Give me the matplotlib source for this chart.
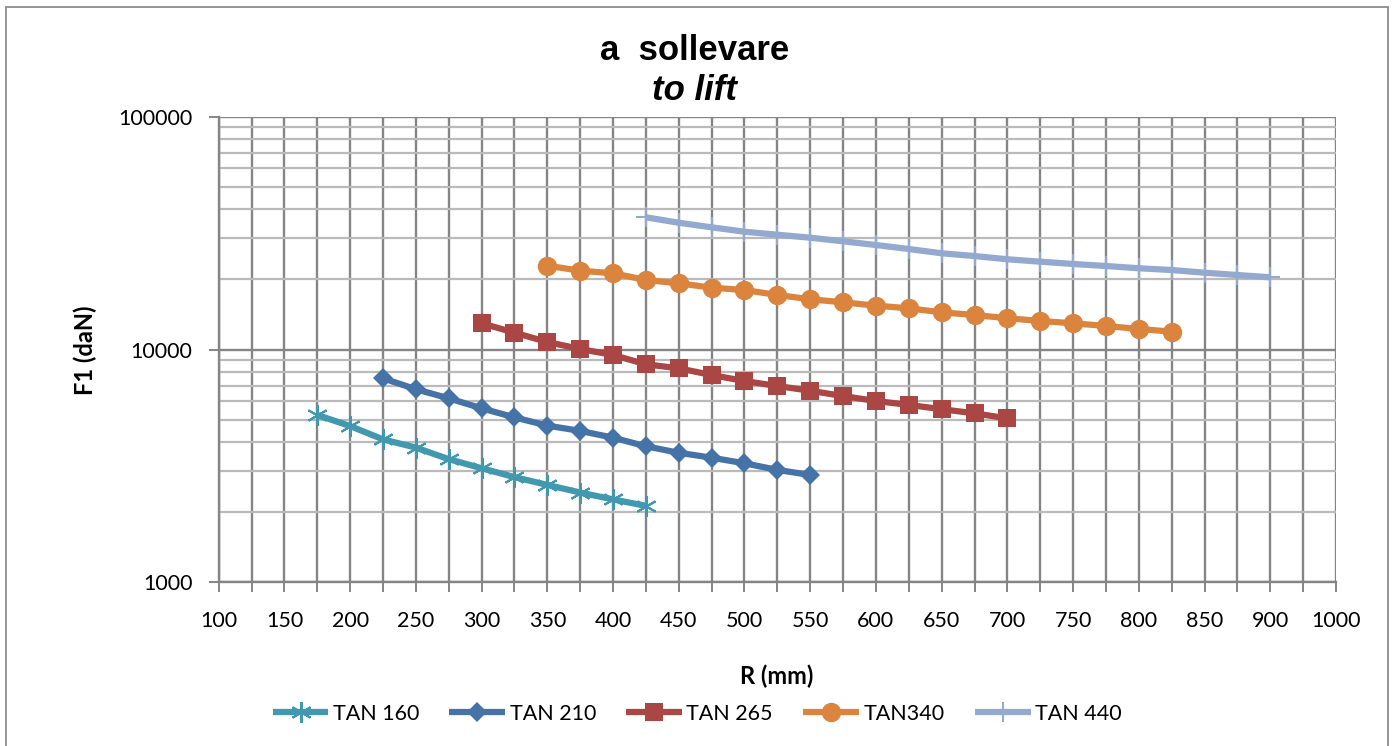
import matplotlib
matplotlib.use("Agg")
import matplotlib.pyplot as plt
from matplotlib.patches import Rectangle
from matplotlib.ticker import FixedLocator, NullFormatter

# ---------------- data ----------------
x_categories = [100, 125, 150, 175, 200, 225, 250, 275, 300, 325, 350, 375, 400,
                425, 450, 475, 500, 525, 550, 575, 600, 625, 650, 675, 700, 725,
                750, 775, 800, 825, 850, 875, 900, 950, 1000]
x_tick_labels = ["100", "", "150", "", "200", "", "250", "", "300", "", "350", "",
                 "400", "", "450", "", "500", "", "550", "", "600", "", "650", "",
                 "700", "", "750", "", "800", "", "850", "", "900", "", "1000"]

tan160_r = [175, 200, 225, 250, 275, 300, 325, 350, 375, 400, 425]
tan160_f = [5230, 4690, 4110, 3790, 3380, 3090, 2830, 2620, 2430, 2270, 2130]

tan210_r = [225, 250, 275, 300, 325, 350, 375, 400, 425, 450, 475, 500, 525, 550]
tan210_f = [7520, 6750, 6170, 5590, 5110, 4710, 4470, 4180, 3840, 3600, 3430,
            3245, 3040, 2890]

tan265_r = [300, 325, 350, 375, 400, 425, 450, 475, 500, 525, 550, 575, 600, 625,
            650, 675, 700]
tan265_f = [12960, 11810, 10770, 10050, 9470, 8640, 8300, 7770, 7320, 6970, 6650,
            6310, 6010, 5780, 5540, 5320, 5060]

tan340_r = [350, 375, 400, 425, 450, 475, 500, 525, 550, 575, 600, 625, 650, 675,
            700, 725, 750, 775, 800, 825]
tan340_f = [22910, 21800, 21250, 19890, 19250, 18430, 18010, 17150, 16430, 15950,
            15430, 15030, 14440, 14070, 13620, 13260, 12960, 12620, 12250, 11930]

tan440_r = [425, 450, 475, 500, 525, 550, 575, 600, 625, 650, 675, 700, 725, 750,
            775, 800, 825, 850, 875, 900]
tan440_f = [36970, 35040, 33480, 32060, 31120, 30210, 29160, 28110, 27020, 25900,
            25200, 24410, 23840, 23300, 22840, 22330, 21950, 21370, 20890, 20420]

y_ticks = [1000, 10000, 100000]
y_tick_labels = ["1000", "10000", "100000"]

title_line1 = "a  sollevare"
title_line2 = "to lift"
x_title = "R (mm)"
y_title = "F1 (daN)"

series = [
    ("TAN 160", tan160_r, tan160_f, "#4198AF", dict(marker=(6, 2, 0), ms=15, mew=1.5, lw=4.5)),
    ("TAN 210", tan210_r, tan210_f, "#4572A7", dict(marker="D", ms=10, mew=0, lw=4.5)),
    ("TAN 265", tan265_r, tan265_f, "#AA4643", dict(marker="s", ms=13, mew=0, lw=4.5)),
    ("TAN340", tan340_r, tan340_f, "#DB843D", dict(marker="o", ms=14, mew=0, lw=4.5)),
    ("TAN 440", tan440_r, tan440_f, "#93A9CF", dict(marker="+", ms=14, mew=1.5, lw=4.5)),
]

# ---------------- figure ----------------
W, H = 1392, 746
fig = plt.figure(figsize=(W / 100, H / 100), dpi=100)
fig.patch.set_facecolor("white")

# outer chart border
fig.patches.append(Rectangle((5.5 / W, -0.01), (1388 - 5.5) / W, 1 - 7 / H + 0.01,
                             transform=fig.transFigure, fill=False,
                             edgecolor="#8c8c8c", lw=1.3))

left, right = 218.7 / W, 1336 / W
top, bottom = 1 - 116.7 / H, 1 - 582.3 / H
ax = fig.add_axes([left, bottom, right - left, top - bottom])

tick_font = "Lato"
grid_major = "#858585"
grid_minor = "#bababa"

ax.set_yscale("log")
ax.set_ylim(y_ticks[0], y_ticks[-1])
ax.set_xlim(0, len(x_categories) - 1)

# grid
ax.yaxis.set_major_locator(FixedLocator(y_ticks))
ax.set_yticklabels(y_tick_labels)
minor = [m * 10 ** e for e in (3, 4) for m in range(2, 10)]
ax.yaxis.set_minor_locator(FixedLocator(minor))
ax.yaxis.set_minor_formatter(NullFormatter())
ax.set_xticks(range(len(x_categories)))
ax.set_xticklabels(x_tick_labels)

ax.grid(True, which="major", axis="y", color=grid_major, lw=1.7)
ax.grid(True, which="minor", axis="y", color=grid_minor, lw=1.6)
ax.grid(True, which="major", axis="x", color=grid_major, lw=1.7)
ax.set_axisbelow(True)

ax.tick_params(axis="y", which="minor", length=0)
ax.tick_params(axis="both", which="major", length=7, width=1.4, color=grid_major,
               labelsize=15.5)
ax.tick_params(axis="x", which="major", pad=14)
ax.tick_params(axis="y", which="major", pad=12)
for lab in ax.get_xticklabels() + ax.get_yticklabels():
    lab.set_fontfamily(tick_font)

for side in ("top", "right"):
    ax.spines[side].set_visible(False)
for side in ("left", "bottom"):
    ax.spines[side].set_color(grid_major)
    ax.spines[side].set_linewidth(1.7)

# series
handles = []
for name, rs, fs, color, st in series:
    xs = [x_categories.index(r) for r in rs]
    (ln,) = ax.plot(xs, fs, color=color, lw=st["lw"], marker=st["marker"],
                    ms=st["ms"], mew=st["mew"], mec=color, mfc=color,
                    label=name, solid_capstyle="butt", clip_on=False, zorder=3)
    handles.append(ln)

# titles
fig.text(695 / W, 1 - 50 / H, title_line1, ha="center", va="center",
         fontsize=25, fontweight="bold", family="Liberation Sans")
fig.text(695 / W, 1 - 90 / H, title_line2, ha="center", va="center",
         fontsize=25, fontweight="bold", style="italic", family="Liberation Sans")

fig.text(777 / W, 1 - 676 / H, x_title, ha="center", va="center",
         fontsize=17, fontweight="bold", family=tick_font)
fig.text(85 / W, 1 - 350 / H, y_title, ha="center", va="center", rotation=90,
         fontsize=17, fontweight="bold", family=tick_font)

leg = fig.legend(handles=handles, loc="center", bbox_to_anchor=(697 / W, 1 - 714 / H),
                 ncol=5, frameon=False, handlelength=2.6, handletextpad=0.2,
                 columnspacing=1.4, prop={"family": tick_font, "size": 15.5})

fig.savefig("out.png", dpi=100, facecolor="white")
